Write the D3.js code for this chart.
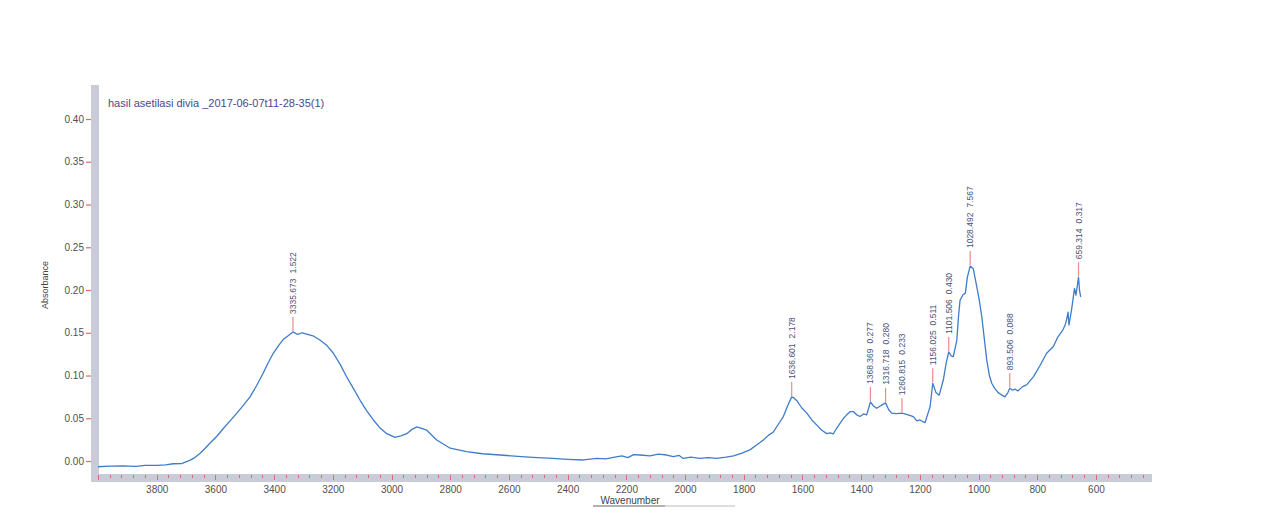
<!DOCTYPE html>
<html>
<head>
<meta charset="utf-8">
<script src="https://cdn.jsdelivr.net/npm/d3@7"></script>
<style>
  html, body { margin: 0; padding: 0; background: #ffffff; }
  svg { display: block; }
  text { font-family: "Liberation Sans", Arial, sans-serif; }
</style>
</head>
<body>
<svg id="chart" width="1272" height="521"></svg>
<script>
// ---------- data ----------
const chartTitle = "hasil asetilasi divia _2017-06-07t11-28-35(1)";
const xAxisTitle = "Wavenumber";
const yAxisTitle = "Absorbance";

const wavenumbers = [
  4000, 3960, 3914, 3870, 3840, 3800, 3770, 3744, 3715, 3686, 3670, 3652, 3635, 3618, 3595, 3573,
  3550, 3527, 3505, 3482, 3460, 3437, 3420, 3403, 3385, 3369, 3350, 3335.673, 3320, 3305, 3289, 3265,
  3244, 3220, 3198, 3175, 3153, 3130, 3107, 3085, 3062, 3040, 3016, 2988, 2968, 2948, 2930, 2914,
  2900, 2880, 2846, 2800, 2744, 2690, 2630, 2570, 2518, 2450, 2400, 2346, 2300, 2270, 2244, 2215,
  2195, 2175, 2153, 2120, 2090, 2062, 2040, 2020, 2006, 1980, 1950, 1920, 1892, 1860, 1835, 1808,
  1779, 1755, 1733, 1716, 1699, 1682, 1665, 1650, 1636.601, 1628, 1619, 1602, 1585, 1568, 1551, 1534,
  1517, 1505, 1495, 1484, 1472, 1460, 1449, 1438, 1426, 1415, 1404, 1392, 1381, 1368.369, 1357, 1347,
  1332, 1316.718, 1306, 1296, 1280, 1260.815, 1240, 1222, 1210, 1199, 1190, 1182, 1172, 1165, 1156.025, 1145,
  1134, 1120, 1110, 1101.506, 1093, 1086, 1074, 1068, 1063, 1052, 1045, 1038, 1028.492, 1018, 1006, 997,
  989, 980, 972, 963, 955, 945, 933, 920, 910, 900, 893.506, 885, 875, 866, 850, 836,
  812, 790, 768, 745, 730, 713, 704, 699, 695, 692, 683, 673, 668, 659.314, 656, 652
];
const absorbance = [
  -0.0067, -0.0060, -0.0058, -0.0062, -0.0052, -0.0050, -0.0045, -0.0032, -0.0030, 0.0010, 0.0040, 0.0090, 0.0150, 0.0210, 0.0290, 0.0380,
  0.0470, 0.0560, 0.0650, 0.0750, 0.0880, 0.1030, 0.1150, 0.1260, 0.1350, 0.1420, 0.1470, 0.1510, 0.1480, 0.1500, 0.1485, 0.1460,
  0.1415, 0.1350, 0.1260, 0.1130, 0.0986, 0.0850, 0.0710, 0.0590, 0.0480, 0.0390, 0.0320, 0.0277, 0.0295, 0.0320, 0.0370, 0.0400,
  0.0385, 0.0360, 0.0246, 0.0150, 0.0110, 0.0085, 0.0070, 0.0055, 0.0043, 0.0030, 0.0020, 0.0012, 0.0030, 0.0025, 0.0043, 0.0060,
  0.0040, 0.0075, 0.0070, 0.0060, 0.0080, 0.0070, 0.0050, 0.0065, 0.0030, 0.0045, 0.0030, 0.0040, 0.0030, 0.0045, 0.0060, 0.0090,
  0.0130, 0.0190, 0.0246, 0.0300, 0.0340, 0.0430, 0.0520, 0.0650, 0.0750, 0.0735, 0.0705, 0.0620, 0.0560, 0.0480, 0.0420, 0.0360,
  0.0320, 0.0330, 0.0316, 0.0380, 0.0440, 0.0500, 0.0540, 0.0577, 0.0577, 0.0540, 0.0520, 0.0550, 0.0540, 0.0690, 0.0640, 0.0617,
  0.0650, 0.0680, 0.0600, 0.0560, 0.0555, 0.0560, 0.0540, 0.0520, 0.0470, 0.0480, 0.0460, 0.0450, 0.0560, 0.0635, 0.0910, 0.0800,
  0.0770, 0.0947, 0.1150, 0.1275, 0.1230, 0.1220, 0.1415, 0.1700, 0.1880, 0.1950, 0.1960, 0.2150, 0.2280, 0.2250, 0.2040, 0.1870,
  0.1690, 0.1420, 0.1180, 0.1000, 0.0910, 0.0850, 0.0800, 0.0770, 0.0750, 0.0800, 0.0850, 0.0830, 0.0840, 0.0820, 0.0870, 0.0890,
  0.0990, 0.1120, 0.1260, 0.1340, 0.1450, 0.1530, 0.1600, 0.1670, 0.1740, 0.1590, 0.1770, 0.2020, 0.1940, 0.2150, 0.2000, 0.1920
];

const xTickValues = [3800, 3600, 3400, 3200, 3000, 2800, 2600, 2400, 2200, 2000, 1800, 1600, 1400, 1200, 1000, 800, 600];
const yTickValues = [0.00, 0.05, 0.10, 0.15, 0.20, 0.25, 0.30, 0.35, 0.40];

const peakWavenumbers = [3335.673, 1636.601, 1368.369, 1316.718, 1260.815, 1156.025, 1101.506, 1028.492, 893.506, 659.314];
const peakValues = ["1.522", "2.178", "0.277", "0.280", "0.233", "0.511", "0.430", "7.567", "0.088", "0.317"];

// ---------- layout ----------
const svg = d3.select("#chart");
const plotLeft = 99, plotRight = 1152, plotTop = 85, plotBottom = 474;

const x = d3.scaleLinear().domain([4000, 409]).range([plotLeft - 1, plotRight]);
const y = d3.scaleLinear().domain([-0.0152, 0.4398]).range([plotBottom, plotTop]);

const barColor = "#c9ccd8";
const tickRed = "#e06a6a";
const labelColor = "#505050";

// axis bars
svg.append("rect").attr("x", 91).attr("y", plotTop).attr("width", 8)
  .attr("height", plotBottom + 8 - plotTop).attr("fill", barColor);
svg.append("rect").attr("x", 91).attr("y", plotBottom).attr("width", plotRight - 91)
  .attr("height", 8).attr("fill", barColor);

// x axis (ticks drawn inside the bar)
const xMinor = d3.range(4000, 409, -40);
svg.append("g").attr("shape-rendering", "crispEdges").selectAll("line").data(xMinor).join("line")
  .attr("x1", d => Math.round(x(d)) + 0.5).attr("x2", d => Math.round(x(d)) + 0.5)
  .attr("y1", plotBottom + 1)
  .attr("y2", d => plotBottom + 1 + (d % 200 === 0 ? 5 : 2.5))
  .attr("stroke", tickRed).attr("stroke-width", 1);

const xAxis = d3.axisBottom(x).tickValues(xTickValues).tickSize(0).tickPadding(0).tickFormat(d3.format("d"));
const gx = svg.append("g").attr("transform", `translate(0,${plotBottom + 19})`).call(xAxis);
gx.select(".domain").remove();
gx.selectAll("text").attr("dy", 0).attr("y", 0)
  .attr("font-size", 10).attr("fill", labelColor)
  .attr("font-family", "Liberation Sans, Arial, sans-serif");

// y axis
const yAxis = d3.axisLeft(y).tickValues(yTickValues).tickSize(5).tickPadding(2).tickFormat(d3.format(".2f"));
const gy = svg.append("g").attr("transform", "translate(91,0)").call(yAxis);
gy.select(".domain").remove();
gy.selectAll(".tick line").attr("stroke", tickRed).attr("stroke-width", 1.2);
gy.selectAll("text").attr("font-size", 10).attr("fill", labelColor)
  .attr("font-family", "Liberation Sans, Arial, sans-serif");

// titles
svg.append("text").attr("x", 108).attr("y", 107)
  .attr("font-size", 11).attr("fill", "#48488e").text(chartTitle);

svg.append("text").attr("transform", "translate(48,285) rotate(-90)")
  .attr("text-anchor", "middle").attr("font-size", 9).attr("fill", "#444").text(yAxisTitle);

svg.append("text").attr("x", 630).attr("y", 504).attr("text-anchor", "middle")
  .attr("font-size", 10).attr("fill", "#444").text(xAxisTitle);
svg.append("line").attr("x1", 593).attr("x2", 665).attr("y1", 506).attr("y2", 506)
  .attr("stroke", "#666").attr("stroke-width", 1);
svg.append("line").attr("x1", 665).attr("x2", 735).attr("y1", 506).attr("y2", 506)
  .attr("stroke", "#bbb").attr("stroke-width", 1);

// spectrum
const spectrum = wavenumbers.map((w, i) => [w, absorbance[i]]);
const line = d3.line().x(d => x(d[0])).y(d => y(d[1]));
svg.append("path").datum(spectrum)
  .attr("fill", "none").attr("stroke", "#3f7cc9").attr("stroke-width", 1.3)
  .attr("stroke-linejoin", "round").attr("d", line);

// peak labels
const peaks = peakWavenumbers.map((w, i) => {
  const idx = d3.minIndex(wavenumbers, v => Math.abs(v - w));
  return { w, a: absorbance[idx], label: peakValues[i] };
});
const pg = svg.append("g");
peaks.forEach(p => {
  const px = x(p.w), py = y(p.a);
  pg.append("line").attr("x1", px).attr("x2", px).attr("y1", py - 1).attr("y2", py - 15)
    .attr("stroke", "#ee8a8a").attr("stroke-width", 1.2);
  const t = pg.append("text")
    .attr("transform", `translate(${px},${py - 18}) rotate(-90)`)
    .attr("dy", "0.35em").attr("font-size", 8.5).attr("fill", "#4a5078");
  t.append("tspan").text(p.w.toFixed(3));
  t.append("tspan").attr("dx", 5).text(p.label);
});
</script>
</body>
</html>
